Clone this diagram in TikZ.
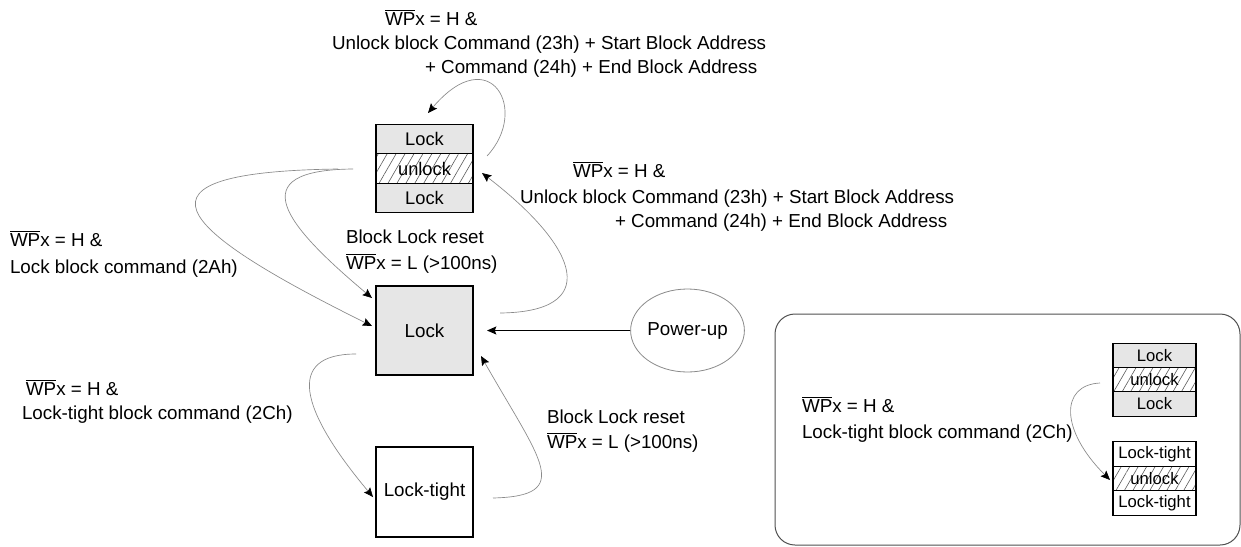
\documentclass[tikz,border=0pt]{standalone}
\usepackage{fontspec}
\setmainfont{Liberation Sans}
\usetikzlibrary{arrows.meta,patterns.meta,shapes.geometric}
\definecolor{lockfill}{HTML}{E6E6E6}
\definecolor{conncol}{HTML}{8A8A8A}
\definecolor{hatchcol}{HTML}{5A5A5A}
\definecolor{framecol}{HTML}{505050}
\newcommand{\wpb}{$\overline{\mbox{WP}}$x}
\begin{document}
\begin{tikzpicture}[x=0.75pt,y=-0.75pt,
  lbl/.style={anchor=base west, inner sep=0pt, outer sep=0pt, font=\fontsize{14.1}{16}\selectfont},
  blkrow/.style={draw=black, line width=0.8pt, minimum width=72.75pt, minimum height=22.1pt, inner sep=0pt, outer sep=0pt, font=\fontsize{13.7}{16}\selectfont},
  lockrow/.style={blkrow, fill=lockfill},
  unrow/.style={blkrow, pattern={Lines[angle=60,distance=5.8pt,line width=0.45pt]}, pattern color=hatchcol},
  smrow/.style={draw=black, line width=0.8pt, minimum width=62.25pt, minimum height=18.4pt, inner sep=0pt, outer sep=0pt, font=\fontsize{12.5}{14}\selectfont},
  slock/.style={smrow, fill=lockfill},
  sun/.style={smrow, pattern={Lines[angle=60,distance=5.5pt,line width=0.45pt]}, pattern color=hatchcol},
  bigbox/.style={draw=black, line width=0.8pt, minimum width=72.75pt, inner sep=0pt, outer sep=0pt, font=\fontsize{14.1}{16}\selectfont},
  conn/.style={draw=conncol, line width=0.5pt, -{Stealth[length=7pt,width=6pt,inset=1.2pt,color=black]}},
]
\fill[white] (0,0) rectangle (1241,546);
\useasboundingbox (0,0) rectangle (1241,546);

% top block
\node[lockrow] (t1) at (424.5,139) {Lock};
\node[unrow] (t2) at (424.5,168.5) {unlock};
\node[lockrow] (t3) at (424.5,198) {Lock};

% main states
\node[bigbox, fill=lockfill, minimum height=66.75pt] (lk) at (424.5,330.5) {Lock};
\node[bigbox, minimum height=67.5pt] (lt) at (424.5,492) {Lock-tight};
\node[ellipse, draw=conncol, line width=0.6pt, minimum width=81.75pt, minimum height=62.25pt, inner sep=0pt, font=\fontsize{14.1}{16}\selectfont] (pu) at (687.5,330.5) {Power-up};

% inset frame
\draw[draw=framecol, line width=0.75pt, rounded corners=15pt] (775,314) rectangle (1240,545);
\node[slock] (i1) at (1154.5,355.3) {Lock};
\node[sun] (i2) at (1154.5,379.7) {unlock};
\node[slock] (i3) at (1154.5,404) {Lock};
\node[smrow] (i4) at (1154.5,454.2) {Lock-tight};
\node[sun] (i5) at (1154.5,478.5) {unlock};
\node[smrow] (i6) at (1154.5,502.8) {Lock-tight};

% connector end points
\coordinate (aS) at (338,169);  \coordinate (aE) at (372,326);
\coordinate (bS) at (353,169);  \coordinate (bE) at (372,298);
\coordinate (cS) at (356,354);  \coordinate (cE) at (373,497);
\coordinate (dS) at (493,498);  \coordinate (dE) at (481,356);
\coordinate (eS) at (500,313);  \coordinate (eE) at (482,173);
\coordinate (fS) at (487,156);  \coordinate (fE) at (428,113);
\coordinate (gS) at (1100,383); \coordinate (gE) at (1110,480);
\coordinate (pE) at (487,330.5);

\draw[conn] (aS) .. controls (120,172) and (170,226) .. (aE);
\draw[conn] (bS) .. controls (240,170) and (285,225) .. (bE);
\draw[conn] (cS) .. controls (285,354) and (300,410) .. (cE);
\draw[conn] (dS) .. controls (575,496) and (540,460) .. (dE);
\draw[conn] (eS) .. controls (600,312) and (582,250) .. (eE);
\draw[conn] (fS) .. controls (530,110) and (490,40) .. (fE);
\draw[conn] (gS) .. controls (1060,385) and (1060,430) .. (gE);
\draw[black, line width=0.8pt, -{Stealth[length=7pt,width=6pt,inset=1.2pt]}] (pu.west) -- (pE);

% labels
\node[lbl] (tx1) at (385,25) {\wpb{} = H \&};
\node[lbl] (tx2) at (332,49) {Unlock block Command (23h) + Start Block Address};
\node[lbl] (tx3) at (425,73) {+ Command (24h) + End Block Address};
\node[lbl] (rx1) at (573,177) {\wpb{} = H \&};
\node[lbl] (rx2) at (520,203) {Unlock block Command (23h) + Start Block Address};
\node[lbl] (rx3) at (615,227) {+ Command (24h) + End Block Address};
\node[lbl] (lx1) at (10,246) {\wpb{} = H \&};
\node[lbl] (lx2) at (10,273) {Lock block command (2Ah)};
\node[lbl] (bx1) at (346,243) {Block Lock reset};
\node[lbl] (bx2) at (346,269) {\wpb{} = L (>100ns)};
\node[lbl] (llx1) at (26,395) {\wpb{} = H \&};
\node[lbl] (llx2) at (22,419) {Lock-tight block command (2Ch)};
\node[lbl] (brx1) at (547,423) {Block Lock reset};
\node[lbl] (brx2) at (547,448) {\wpb{} = L (>100ns)};
\node[lbl] (ix1) at (802,412) {\wpb{} = H \&};
\node[lbl] (ix2) at (802,438) {Lock-tight block command (2Ch)};
\end{tikzpicture}
\end{document}
